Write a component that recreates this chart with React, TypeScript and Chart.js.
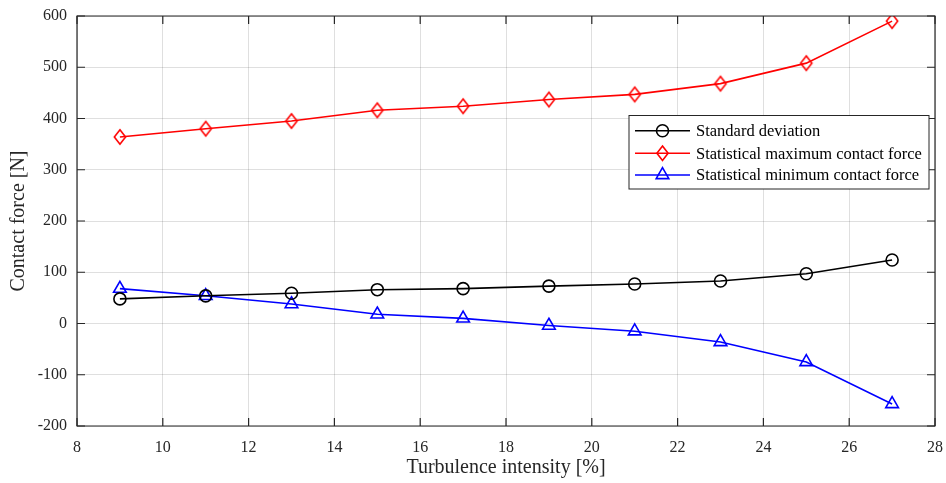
import React, { useEffect, useRef } from 'react';
import { Chart, registerables } from 'chart.js';

Chart.register(...registerables);

const turbulence = [9, 11, 13, 15, 17, 19, 21, 23, 25, 27];
const stdDev = [48, 54, 59, 66, 68, 73, 77, 83, 97, 124];
const statMax = [364, 380, 395, 416, 424, 437, 447, 468, 508, 590];
const statMin = [68, 54, 38, 18, 10, -4, -15, -36, -75, -157];

const seriesNames = [
  'Standard deviation',
  'Statistical maximum contact force',
  'Statistical minimum contact force',
];
const seriesColors = ['#000000', '#ff0000', '#0000ff'];
const xTitle = 'Turbulence intensity [%]';
const yTitle = 'Contact force [N]';

const FONT = "'Liberation Serif', 'Times New Roman', serif";
const AXIS = '#262626';

function makeDiamond(color: string) {
  const c = document.createElement('canvas');
  c.width = 16;
  c.height = 20;
  const ctx = c.getContext('2d')!;
  ctx.strokeStyle = color;
  ctx.lineWidth = 1.6;
  const cx = 8, cy = 10, hw = 5.6, hh = 7.2;
  ctx.beginPath();
  ctx.moveTo(cx, cy - hh);
  ctx.lineTo(cx + hw, cy);
  ctx.lineTo(cx, cy + hh);
  ctx.lineTo(cx - hw, cy);
  ctx.closePath();
  ctx.stroke();
  return c;
}

function drawMarker(ctx: CanvasRenderingContext2D, kind: number, x: number, y: number, color: string) {
  ctx.save();
  ctx.strokeStyle = color;
  ctx.lineWidth = 1.6;
  ctx.beginPath();
  if (kind === 0) {
    ctx.arc(x, y, 6, 0, Math.PI * 2);
  } else if (kind === 1) {
    ctx.moveTo(x, y - 7.2);
    ctx.lineTo(x + 5.6, y);
    ctx.lineTo(x, y + 7.2);
    ctx.lineTo(x - 5.6, y);
    ctx.closePath();
  } else {
    const r = 7.3;
    ctx.moveTo(x, y - r);
    ctx.lineTo(x + r * Math.cos(Math.PI / 6), y + r / 2);
    ctx.lineTo(x - r * Math.cos(Math.PI / 6), y + r / 2);
    ctx.closePath();
  }
  ctx.stroke();
  ctx.restore();
}

const frameAndLegend = {
  id: 'frameAndLegend',
  afterDraw(chart: any) {
    const { ctx, chartArea } = chart;
    const { left, right, top, bottom } = chartArea;
    const xs = chart.scales.x;
    const ys = chart.scales.y;
    ctx.save();
    ctx.strokeStyle = AXIS;
    ctx.lineWidth = 1.2;
    ctx.beginPath();
    ctx.rect(left, top, right - left, bottom - top);
    ctx.stroke();
    const tl = 8;
    ctx.beginPath();
    xs.ticks.forEach((t: any) => {
      const px = xs.getPixelForValue(t.value);
      ctx.moveTo(px, bottom);
      ctx.lineTo(px, bottom - tl);
      ctx.moveTo(px, top);
      ctx.lineTo(px, top + tl);
    });
    ys.ticks.forEach((t: any) => {
      const py = ys.getPixelForValue(t.value);
      ctx.moveTo(left, py);
      ctx.lineTo(left + tl, py);
      ctx.moveTo(right, py);
      ctx.lineTo(right - tl, py);
    });
    ctx.stroke();

    // legend
    const bx = 629, by = 115.5, bw = 300, bh = 73.5;
    ctx.fillStyle = '#ffffff';
    ctx.fillRect(bx, by, bw, bh);
    ctx.strokeStyle = AXIS;
    ctx.lineWidth = 1;
    ctx.strokeRect(bx, by, bw, bh);
    const rows = [130.7, 153.3, 175];
    ctx.font = `16.5px ${FONT}`;
    ctx.textBaseline = 'middle';
    ctx.textAlign = 'left';
    seriesNames.forEach((name, i) => {
      const y = rows[i];
      ctx.strokeStyle = seriesColors[i];
      ctx.lineWidth = 1.6;
      ctx.beginPath();
      ctx.moveTo(635, y);
      ctx.lineTo(690, y);
      ctx.stroke();
      drawMarker(ctx, i, 662.5, y, seriesColors[i]);
      ctx.fillStyle = '#000000';
      ctx.fillText(name, 696, y + 1);
    });
    ctx.restore();
  },
};

export default function App() {
  const ref = useRef<HTMLCanvasElement | null>(null);
  useEffect(() => {
    if (!ref.current) return;
    const diamond = makeDiamond(seriesColors[1]);
    const toPts = (arr: number[]) => turbulence.map((x, i) => ({ x, y: arr[i] }));
    const chart = new Chart(ref.current, {
      type: 'line',
      data: {
        datasets: [
          {
            label: seriesNames[0],
            data: toPts(stdDev),
            borderColor: seriesColors[0],
            borderWidth: 1.6,
            pointStyle: 'circle',
            pointRadius: 6,
            pointBorderWidth: 1.6,
            pointBorderColor: seriesColors[0],
            pointBackgroundColor: 'rgba(0,0,0,0)',
            tension: 0,
          },
          {
            label: seriesNames[1],
            data: toPts(statMax),
            borderColor: seriesColors[1],
            borderWidth: 1.6,
            pointStyle: diamond as any,
            pointRadius: 7,
            pointBorderColor: seriesColors[1],
            pointBackgroundColor: 'rgba(0,0,0,0)',
            tension: 0,
          },
          {
            label: seriesNames[2],
            data: toPts(statMin),
            borderColor: seriesColors[2],
            borderWidth: 1.6,
            pointStyle: 'triangle',
            pointRadius: 7.3,
            pointBorderWidth: 1.6,
            pointBorderColor: seriesColors[2],
            pointBackgroundColor: 'rgba(0,0,0,0)',
            tension: 0,
          },
        ],
      },
      options: {
        responsive: false,
        animation: false,
        events: [],
        layout: { padding: { left: 0, top: 16, right: 11, bottom: 0 } },
        plugins: {
          legend: { display: false },
          tooltip: { enabled: false },
        },
        scales: {
          x: {
            type: 'linear',
            min: 8,
            max: 28,
            ticks: {
              stepSize: 2,
              color: AXIS,
              font: { family: FONT, size: 16 },
              padding: 12,
              maxRotation: 0,
            },
            grid: { color: 'rgba(38,38,38,0.15)', drawTicks: false, lineWidth: 1 },
            border: { display: false },
            title: {
              display: true,
              text: xTitle,
              color: AXIS,
              font: { family: FONT, size: 20 },
              padding: { top: 0, bottom: 3 },
            },
            afterFit: (s: any) => {
              s.height = 57;
              s.paddingLeft = 0;
              s.paddingRight = 0;
            },
          },
          y: {
            type: 'linear',
            min: -200,
            max: 600,
            ticks: {
              stepSize: 100,
              color: AXIS,
              font: { family: FONT, size: 16 },
              padding: 10,
            },
            grid: { color: 'rgba(38,38,38,0.15)', drawTicks: false, lineWidth: 1 },
            border: { display: false },
            title: {
              display: true,
              text: yTitle,
              color: AXIS,
              font: { family: FONT, size: 20 },
              padding: { top: 7, bottom: 0 },
            },
            afterFit: (s: any) => {
              s.width = 77;
              s.paddingTop = 0;
              s.paddingBottom = 0;
            },
          },
        },
      },
      plugins: [frameAndLegend],
    });
    return () => chart.destroy();
  }, []);
  return (
    <div style={{ position: 'fixed', left: 0, top: 0, width: 946, height: 483, background: '#fff' }}>
      <canvas ref={ref} width={946} height={483} style={{ display: 'block' }} />
    </div>
  );
}
